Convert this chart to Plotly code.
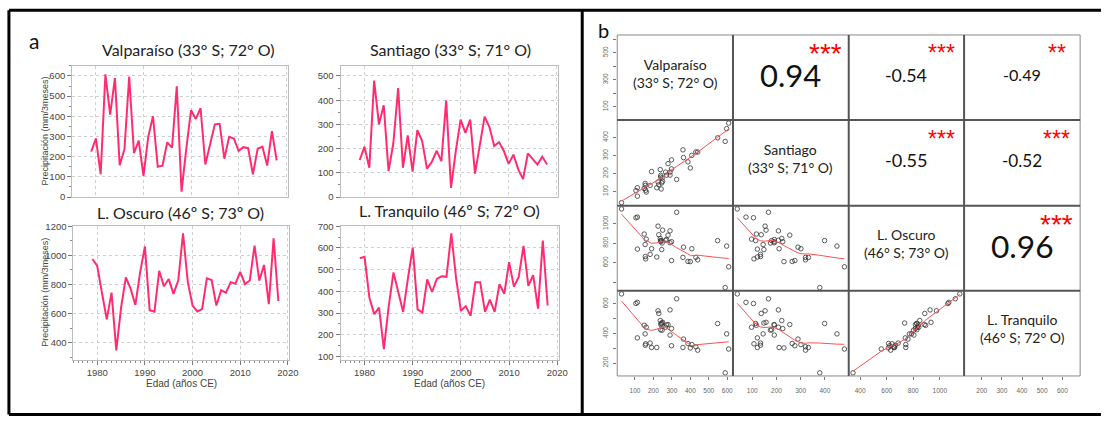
import numpy as np
import plotly.graph_objects as go

# ---------------- data ----------------
years = list(range(1979, 2019))
valparaiso = [225, 290, 113, 608, 408, 589, 158, 237, 597, 218,
              279, 105, 298, 400, 150, 155, 271, 245, 548, 27,
              240, 430, 387, 440, 161, 266, 360, 363, 190, 298,
              290, 229, 247, 242, 113, 239, 250, 156, 326, 182]
santiago = [153, 208, 121, 481, 301, 379, 107, 222, 450, 121,
            255, 105, 276, 231, 117, 145, 191, 148, 399, 38,
            190, 320, 265, 320, 97, 208, 332, 289, 211, 226,
            191, 137, 175, 114, 74, 180, 157, 134, 167, 134]
oscuro = [975, 927, 740, 559, 744, 346, 640, 849, 771, 659,
          883, 1061, 623, 612, 894, 787, 838, 735, 827, 1151,
          816, 655, 614, 630, 842, 831, 655, 760, 744, 816,
          805, 887, 802, 827, 1068, 827, 934, 664, 1117, 686]
tranquilo = [553, 559, 370, 295, 325, 134, 330, 487, 397, 305,
             460, 602, 317, 302, 455, 397, 457, 470, 467, 667,
             460, 310, 332, 287, 442, 442, 305, 362, 305, 433,
             389, 535, 422, 467, 610, 425, 475, 320, 634, 335]

series = [valparaiso, santiago, oscuro, tranquilo]
ts_titles = ["Valparaíso (33° S; 72° O)", "Santiago (33° S; 71° O)",
             "L. Oscuro (46º S; 73º O)", "L. Tranquilo (46º S; 72º O)"]
diag_labels = ["Valparaíso<br>(33° S; 72° O)", "Santiago<br>(33° S; 71° O)",
               "L. Oscuro<br>(46° S; 73° O)", "L. Tranquilo<br>(46° S; 72° O)"]
cor_text = ["0.94", "-0.54", "-0.49", "-0.55", "-0.52", "0.96"]
cor_stars = ["***", "***", "**", "***", "***", "***"]
y_title = "Precipitación (mm/3meses)"
x_title = "Edad (años CE)"

# scatter-matrix tick values / labels per variable
sm_y_tickvals = [[100, 200, 300, 400, 500, 600], [100, 200, 300, 400],
                 [400, 600, 800, 1000], [200, 300, 400, 500, 600]]
sm_y_ticktext = [["100", "", "300", "", "500", ""], ["100", "200", "300", "400"],
                 ["", "600", "800", "1000"], ["200", "", "400", "", "600"]]
sm_x_tickvals = [[100, 200, 300, 400, 500, 600], [100, 200, 300, 400],
                 [400, 600, 800, 1000], [200, 300, 400, 500, 600]]

# ---------------- helpers ----------------
W, H = 1105, 421
def PX(p): return p / W
def PY(p): return 1 - p / H

def axname(k, c): return f"{c}axis" if k == 1 else f"{c}axis{k}"
def ref(k, c): return c if k == 1 else f"{c}{k}"

def lowess(x, y, f=2/3, iters=3):
    x = np.asarray(x, float); y = np.asarray(y, float)
    o = np.argsort(x, kind="mergesort"); xs = x[o]; ys = y[o]
    n = len(xs)
    ns = max(min(int(f * n + 1e-7), n), 2)
    rw = np.ones(n); fit = np.zeros(n)
    for it in range(iters + 1):
        for i in range(n):
            d = np.abs(xs - xs[i])
            h = max(np.sort(d)[ns - 1], 1e-12)
            u = d / h
            w = np.where(u < 1, (1 - u ** 3) ** 3, 0.0) * rw
            sw = w.sum()
            if sw <= 0:
                fit[i] = ys[i]; continue
            xm = (w * xs).sum() / sw; ym = (w * ys).sum() / sw
            sxx = (w * (xs - xm) ** 2).sum()
            if sxx > 1e-10 * sw * (xs[-1] - xs[0]) ** 2:
                b = (w * (xs - xm) * (ys - ym)).sum() / sxx
                fit[i] = ym + b * (xs[i] - xm)
            else:
                fit[i] = ym
        if it == iters:
            break
        res = ys - fit
        s = np.median(np.abs(res))
        if s == 0:
            break
        u = res / (6 * s)
        rw = np.where(np.abs(u) < 1, (1 - u ** 2) ** 2, 0.0)
    return xs, fit

def ext_range(v):
    lo, hi = min(v), max(v)
    d = (hi - lo) * 0.04
    return [lo - d, hi + d]

fig = go.Figure()
layout = dict(width=W, height=H, margin=dict(l=0, r=0, t=0, b=0),
              paper_bgcolor="white", plot_bgcolor="white", showlegend=False)
annotations = []
shapes = []

TICKFONT = dict(family="Liberation Sans, Arial, sans-serif", size=9.5, color="#444")
LINE_COLOR = "#ff2d6e"

# ---------------- panel a: time series ----------------
ts_specs = [
    dict(x=(72.7, 290.0), y=(62.3, 196.7), yr=[0, 650], dt=100, mdt=50, bottom=False, left=True),
    dict(x=(343.3, 562.7), y=(62.3, 196.7), yr=[0, 542], dt=100, mdt=50, bottom=False, left=False),
    dict(x=(74.0, 291.7), y=(226.0, 363.3), yr=[282, 1205], dt=200, mdt=100, bottom=True, left=True),
    dict(x=(343.3, 563.3), y=(226.0, 363.3), yr=[85, 703], dt=100, mdt=50, bottom=True, left=False),
]
title_pos = [(189.5, 45.5), (454.3, 45.5), (181.7, 212.8), (453.6, 211.0)]

k = 0
for i, sp in enumerate(ts_specs):
    k += 1
    xa = dict(domain=[PX(sp["x"][0]), PX(sp["x"][1])], range=[1975, 2020.3],
              anchor=ref(k, "y"), tick0=1980, dtick=10,
              showgrid=True, gridcolor="#cfcfcf", griddash="dot", gridwidth=1,
              showline=True, mirror=True, linecolor="#bdbdbd", linewidth=1,
              zeroline=False, tickfont=TICKFONT, tickcolor="#777", ticklen=4)
    if sp["bottom"]:
        xa.update(ticks="outside", showticklabels=True,
                  minor=dict(ticks="outside", ticklen=2, dtick=1, tick0=1979,
                             tickcolor="#888", showgrid=False))
    else:
        xa.update(ticks="", showticklabels=False)
    ya = dict(domain=[PY(sp["y"][1]), PY(sp["y"][0])], range=sp["yr"],
              anchor=ref(k, "x"), tick0=0, dtick=sp["dt"],
              showgrid=True, gridcolor="#cfcfcf", griddash="dot", gridwidth=1,
              showline=True, mirror=True, linecolor="#bdbdbd", linewidth=1,
              zeroline=False, ticks="outside", ticklen=4, tickcolor="#777",
              tickfont=TICKFONT,
              minor=dict(ticks="outside", ticklen=2, dtick=sp["mdt"], tick0=0,
                         tickcolor="#888", showgrid=False))
    layout[axname(k, "x")] = xa
    layout[axname(k, "y")] = ya
    fig.add_trace(go.Scatter(x=years, y=series[i], mode="lines",
                             line=dict(color=LINE_COLOR, width=2),
                             xaxis=ref(k, "x"), yaxis=ref(k, "y"), hoverinfo="skip"))
    tx, ty = title_pos[i]
    annotations.append(dict(x=PX(tx), y=PY(ty), xref="paper", yref="paper",
                            text=ts_titles[i], showarrow=False, xanchor="center", yanchor="middle",
                            font=dict(family="Lato, sans-serif", size=16, color="#222")))
    if sp["left"]:
        cy = (sp["y"][0] + sp["y"][1]) / 2
        annotations.append(dict(x=PX(45.5), y=PY(cy), xref="paper", yref="paper",
                                text=y_title, showarrow=False, textangle=-90,
                                xanchor="center", yanchor="middle",
                                font=dict(family="Liberation Sans, Arial, sans-serif", size=9, color="#444")))
    if sp["bottom"]:
        cx = (sp["x"][0] + sp["x"][1]) / 2
        annotations.append(dict(x=PX(cx), y=PY(387.7), xref="paper", yref="paper",
                                text=x_title, showarrow=False, xanchor="center", yanchor="middle",
                                font=dict(family="Liberation Sans, Arial, sans-serif", size=10, color="#444")))

annotations.append(dict(x=PX(34), y=PY(36), xref="paper", yref="paper", text="a",
                        showarrow=False, xanchor="center", yanchor="middle",
                        font=dict(family="Lato, sans-serif", size=21, color="#111")))
annotations.append(dict(x=PX(608.5), y=PY(26), xref="paper", yref="paper", text="b",
                        showarrow=False, xanchor="center", yanchor="middle",
                        font=dict(family="Lato, sans-serif", size=20, color="#111")))

# ---------------- panel b: scatter matrix ----------------
xe = [622.3, 739.0, 855.7, 972.0, 1089.0]
ye = [30.7, 117.7, 205.7, 292.7, 380.0]
ranges = [ext_range(s) for s in series]
SMFONT = dict(family="Liberation Sans, Arial, sans-serif", size=6.5, color="#666")

cor_idx = 0
for r in range(4):
    for c in range(4):
        k += 1
        xa = dict(domain=[PX(xe[c]), PX(xe[c + 1])], range=ranges[c], anchor=ref(k, "y"),
                  showgrid=False, zeroline=False, showline=False, fixedrange=True)
        ya = dict(domain=[PY(ye[r + 1]), PY(ye[r])], range=ranges[r], anchor=ref(k, "x"),
                  showgrid=False, zeroline=False, showline=False, fixedrange=True)
        if r == 3:
            xa.update(tickmode="array", tickvals=sm_x_tickvals[c],
                      ticktext=[str(v) for v in sm_x_tickvals[c]],
                      ticks="outside", ticklen=3, tickcolor="#777", tickfont=SMFONT,
                      ticklabelstandoff=5)
        else:
            xa.update(showticklabels=False, ticks="")
        if c == 0:
            ya.update(tickmode="array", tickvals=sm_y_tickvals[r], ticktext=sm_y_ticktext[r],
                      ticks="outside", ticklen=3, tickcolor="#777", tickfont=SMFONT, tickangle=-90,
                      ticklabelstandoff=3)
        else:
            ya.update(showticklabels=False, ticks="")
        layout[axname(k, "x")] = xa
        layout[axname(k, "y")] = ya
        cx = (xe[c] + xe[c + 1]) / 2
        cy = (ye[r] + ye[r + 1]) / 2
        if r > c:
            fig.add_trace(go.Scatter(x=series[c], y=series[r], mode="markers",
                                     marker=dict(symbol="circle-open", size=4.5, color="#333",
                                                 line=dict(width=0.8, color="#333")),
                                     xaxis=ref(k, "x"), yaxis=ref(k, "y"), hoverinfo="skip"))
            lx, ly = lowess(series[c], series[r])
            fig.add_trace(go.Scatter(x=lx, y=ly, mode="lines",
                                     line=dict(color="#ff5050", width=1),
                                     xaxis=ref(k, "x"), yaxis=ref(k, "y"), hoverinfo="skip"))
        else:
            fig.add_trace(go.Scatter(x=[None], y=[None], mode="markers",
                                     xaxis=ref(k, "x"), yaxis=ref(k, "y"), hoverinfo="skip"))
            if r == c:
                annotations.append(dict(x=PX(cx), y=PY(cy - 4.5), xref="paper", yref="paper",
                                        text=diag_labels[r], showarrow=False,
                                        xanchor="center", yanchor="middle",
                                        font=dict(family="Lato, sans-serif", size=14, color="#222")))
            else:
                txt = cor_text[cor_idx]
                fs = 33 * abs(float(txt))
                annotations.append(dict(x=PX(cx), y=PY(cy - 2.5), xref="paper", yref="paper",
                                        text=txt, showarrow=False,
                                        xanchor="center", yanchor="middle",
                                        font=dict(family="Lato, sans-serif", size=fs, color="#111")))
                big = abs(float(txt)) > 0.8
                sfs = 28 if big else 23
                sx = xe[c] + 0.8 * (xe[c + 1] - xe[c])
                sy = ye[r + 1] - 0.8 * (ye[r + 1] - ye[r])
                annotations.append(dict(x=PX(sx), y=PY(sy + 1.5), xref="paper", yref="paper",
                                        text=cor_stars[cor_idx], showarrow=False,
                                        xanchor="center", yanchor="middle",
                                        font=dict(family="Liberation Sans, Arial, sans-serif",
                                                  size=sfs, color="#ff0000")))
                cor_idx += 1

# matrix frame lines
shapes.append(dict(type="rect", xref="paper", yref="paper",
                   x0=PX(xe[0]), x1=PX(xe[-1]), y0=PY(ye[-1]), y1=PY(ye[0]),
                   line=dict(color="#888", width=1)))
for xv in xe[1:-1]:
    shapes.append(dict(type="line", xref="paper", yref="paper",
                       x0=PX(xv), x1=PX(xv), y0=PY(ye[-1]), y1=PY(ye[0]),
                       line=dict(color="#555", width=2)))
for yv in ye[1:-1]:
    shapes.append(dict(type="line", xref="paper", yref="paper",
                       x0=PX(xe[0]), x1=PX(xe[-1]), y0=PY(yv), y1=PY(yv),
                       line=dict(color="#555", width=2)))

# black outer borders
for (x0, y0, x1, y1) in [(9, 5.3, 1110, 5.3), (9, 419.5, 1110, 419.5),
                         (9, 5.3, 9, 419.5), (587, 5.3, 587, 419.5)]:
    shapes.append(dict(type="line", xref="paper", yref="paper",
                       x0=PX(x0), x1=PX(x1), y0=PY(y0), y1=PY(y1),
                       line=dict(color="#000", width=3)))

layout["annotations"] = annotations
layout["shapes"] = shapes
fig.update_layout(**layout)
fig.write_html("out.html")
